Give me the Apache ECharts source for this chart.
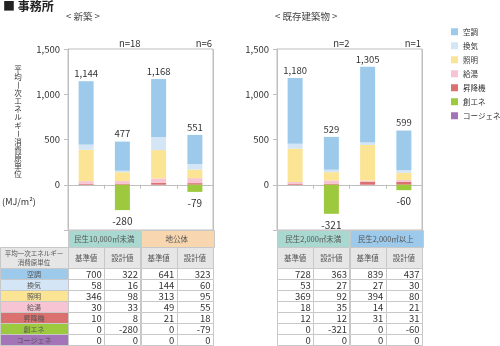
<!DOCTYPE html>
<html><head><meta charset="utf-8">
<script src="https://cdn.jsdelivr.net/npm/echarts@6/dist/echarts.min.js"></script>
<style>html,body{margin:0;padding:0;background:#fff}#c{width:500px;height:346px}</style>
</head><body><div id="c"></div>
<script>
// ---- data ----
const title = '■ 事務所';
const sections = ['< 新築 >', '< 既存建築物 >'];
const seriesNames = ['空調', '換気', '照明', '給湯', '昇降機', '創エネ', 'コージェネ'];
const seriesColors = ['#9DCAEA', '#D4E5F5', '#FBE494', '#F7C4D4', '#DB716E', '#9DC93F', '#A374B8'];
const groups = ['民生10,000㎡未満', '地公体', '民生2,000㎡未満', '民生2,000㎡以上'];
const groupColors = ['#A8D8CF', '#F8D6AF', '#A8D8CF', '#9DCAEA'];
const nLabels = ['n=18', 'n=6', 'n=2', 'n=1'];
const colNames = ['基準値', '設計値'];
const tableHead = '平均一次エネルギー\n消費原単位';
const yTitle = '平均一次エネルギー消費原単位';
const yUnit = '(MJ/m²)';
const yTicks = [-500, 0, 500, 1000, 1500];
// values: 基準値/設計値 per group (8 columns)
const kucho   = [700, 322, 641, 323, 728, 363, 839, 437];
const kanki   = [58, 16, 144, 60, 53, 27, 27, 30];
const shomei  = [346, 98, 313, 95, 369, 92, 394, 80];
const kyuto   = [30, 33, 49, 55, 18, 35, 14, 21];
const shokoki = [10, 8, 21, 18, 12, 12, 31, 31];
const soene   = [0, -280, 0, -79, 0, -321, 0, -60];
const cogene  = [0, 0, 0, 0, 0, 0, 0, 0];

const values = [kucho, kanki, shomei, kyuto, shokoki, soene, cogene];
const totals = kucho.map((_, i) => values.reduce((s, a) => s + (a[i] > 0 ? a[i] : 0), 0));

// ---- layout ----
const FONT = '"Noto Sans CJK JP", "Noto Sans", sans-serif';
const gridTop = 49, gridBottomY = 230, gridW = 145;
const gridLefts = [68, 277];
const chart = echarts.init(document.getElementById('c'), null, {renderer: 'canvas'});

const stackOrder = [4, 3, 2, 1, 0, 5, 6]; // bottom -> top
const grids = [], xAxes = [], yAxes = [], series = [];
gridLefts.forEach((gl, g) => {
  grids.push({left: gl, top: gridTop, width: gridW, height: gridBottomY - gridTop,
    show: true, borderColor: '#BFBFBF', borderWidth: 1});
  xAxes.push({type: 'category', gridIndex: g, data: ['c0', 'c1', 'c2', 'c3'],
    axisLine: {onZero: true, lineStyle: {color: '#BFBFBF'}},
    axisTick: {show: true, interval: 0, length: 4, lineStyle: {color: '#BFBFBF'}},
    axisLabel: {show: false},
    splitLine: {show: true, interval: (i) => i === 2, lineStyle: {color: '#BFBFBF', width: 1}}});
  yAxes.push({type: 'value', gridIndex: g, min: yTicks[0], max: yTicks[yTicks.length - 1], interval: 500,
    axisLine: {show: true, lineStyle: {color: '#BFBFBF'}},
    axisTick: {show: true, length: 4, lineStyle: {color: '#BFBFBF'}},
    splitLine: {show: false},
    axisLabel: {fontSize: 9.5, color: '#333', fontFamily: FONT, margin: 8,
      formatter: v => v < 0 ? '' : v.toLocaleString('en-US')}});
  stackOrder.forEach(si => {
    const s = {
      name: seriesNames[si], type: 'bar', stack: 'g' + g, xAxisIndex: g, yAxisIndex: g,
      barWidth: 15, itemStyle: {color: seriesColors[si]},
      data: values[si].slice(g * 4, g * 4 + 4)
    };
    if (si === 0) {
      s.label = {show: true, position: 'top', distance: 3, fontSize: 9.5, color: '#333', fontFamily: FONT,
        formatter: p => totals[g * 4 + p.dataIndex].toLocaleString('en-US')};
    }
    if (si === 5) {
      s.label = {show: true, position: 'bottom', distance: 6, fontSize: 10, color: '#333', fontFamily: FONT,
        formatter: p => p.value !== 0 ? String(p.value) : ''};
    }
    series.push(s);
  });
});

// ---- graphics: titles, n labels, y title, tables ----
const gfx = [];
gfx.push({type: 'text', left: 3, top: 0, style: {text: title, font: 'bold 12px ' + FONT, fill: '#222'}});
sections.forEach((t, g) => {
  gfx.push({type: 'text', left: gridLefts[g] - 2, top: 12, style: {text: t, font: '9.5px ' + FONT, fill: '#444'}});
});
nLabels.forEach((t, k) => {
  const g = Math.floor(k / 2);
  const x = gridLefts[g] + gridW / 2 * (k % 2 + 1);
  gfx.push({type: 'text', x: x - (k % 2 === 0 ? 0 : 1), y: 43, style: {text: t, font: '9.5px ' + FONT, fill: '#333', align: 'right', verticalAlign: 'middle'}});
});
// vertical y title
Array.from(yTitle).forEach((ch, i) => {
  const rot = (ch === '一' || ch === 'ー');
  gfx.push({type: 'text', x: 18, y: 69 + i * 8.1, rotation: rot ? -Math.PI / 2 : 0,
    style: {text: ch, font: '7.5px ' + FONT, fill: '#333', align: 'center', verticalAlign: 'middle'}});
});
gfx.push({type: 'text', x: 19, y: 202, style: {text: yUnit, font: '9px ' + FONT, fill: '#333', align: 'center', verticalAlign: 'middle'}});

// tables
const headY = 230, headH = 17, subY = 247, subH = 21, rowY = 268, rowH = 11;
const LINE = '#C8C8C8';
function cell(x, y, w, h, fill, text, align, color, size) {
  gfx.push({type: 'rect', shape: {x: Math.round(x) + 0.5, y: Math.round(y) + 0.5, width: Math.round(w), height: Math.round(h)},
    style: {fill: fill, stroke: LINE, lineWidth: 1}, z: 10});
  if (text !== '') {
    const tx = align === 'right' ? x + w - 2.5 : x + w / 2;
    gfx.push({type: 'text', x: tx, y: y + h / 2 + 0.5, z: 11,
      style: {text: text, font: size + 'px ' + FONT, fill: color, align: align, verticalAlign: 'middle', lineHeight: 9}});
  }
}
const colW = gridW / 4;
gridLefts.forEach((gl, g) => {
  for (let k = 0; k < 2; k++) {
    const gi = g * 2 + k;
    cell(gl + k * gridW / 2, headY, gridW / 2, headH, groupColors[gi], groups[gi], 'center', '#555', 7.5);
    for (let c = 0; c < 2; c++) {
      const col = gi * 2 + c;
      const x = gl + (k * 2 + c) * colW;
      cell(x, subY, colW, subH, '#E6E6E6', colNames[c], 'center', '#555', 7.5);
      values.forEach((arr, r) => {
        cell(x, rowY + r * rowH, colW, rowH, '#FFFFFF', String(arr[col]), 'right', '#333', 9.5);
      });
    }
  }
});
cell(0, subY, gridLefts[0], subH, '#E6E6E6', tableHead, 'center', '#555', 6.5);
seriesNames.forEach((n, r) => {
  cell(0, rowY + r * rowH, gridLefts[0], rowH, seriesColors[r], n, 'center', '#555', 7);
});

chart.setOption({
  animation: false,
  textStyle: {fontFamily: FONT},
  legend: {
    data: seriesNames, orient: 'vertical', left: 451, top: 28, padding: 0,
    itemWidth: 7, itemHeight: 7, itemGap: 6.5, icon: 'rect',
    textStyle: {fontSize: 7.5, color: '#333', fontFamily: FONT}
  },
  grid: grids, xAxis: xAxes, yAxis: yAxes, series: series,
  graphic: gfx
});
</script>
</body></html>
